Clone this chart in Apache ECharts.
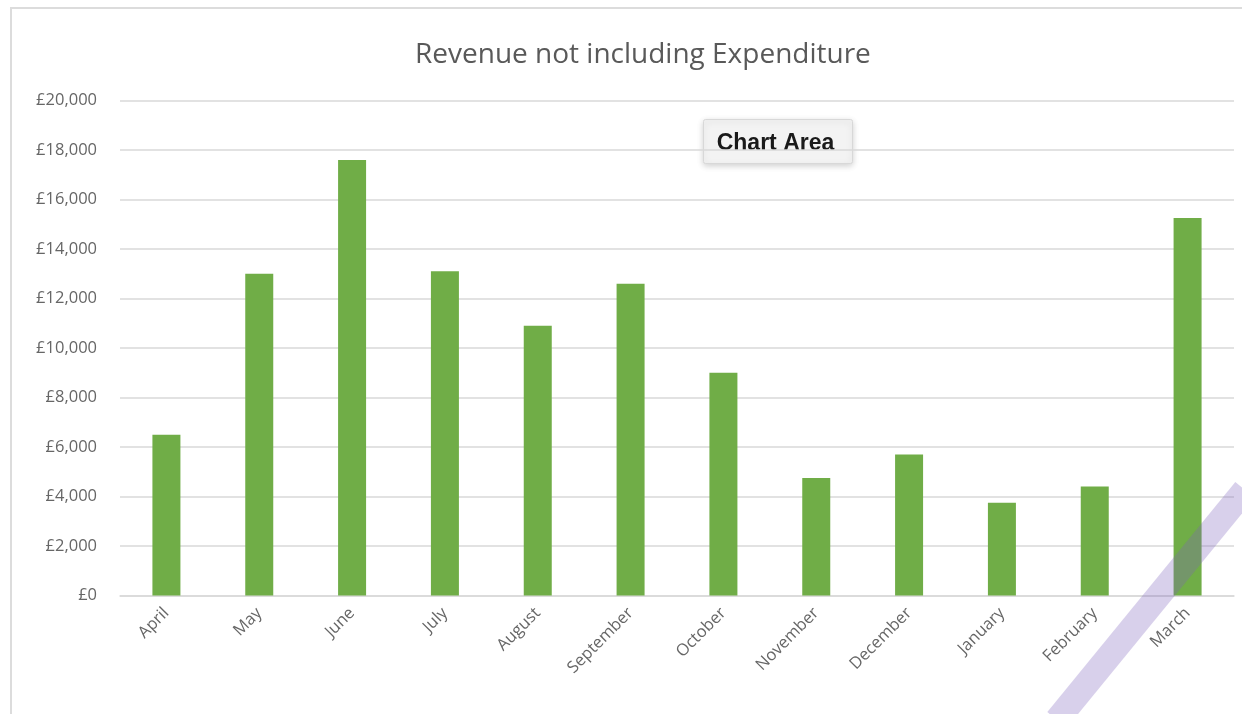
<!DOCTYPE html>
<html>
<head>
<meta charset="utf-8">
<script src="https://cdn.jsdelivr.net/npm/echarts@6/dist/echarts.min.js"></script>
<style>html,body{margin:0;padding:0;background:#fff;}#c{width:1242px;height:714px;}</style>
</head>
<body>
<div id="c"></div>
<script>
const months = ["April","May","June","July","August","September","October","November","December","January","February","March"];
const revenue = [6500, 13000, 17600, 13100, 10900, 12600, 9000, 4750, 5700, 3750, 4400, 15250];
const yTicks = [0, 2000, 4000, 6000, 8000, 10000, 12000, 14000, 16000, 18000, 20000];
const titleText = "Revenue not including Expenditure";
const popupText = "Chart Area";

const chart = echarts.init(document.getElementById('c'));
chart.setOption({
  animation: false,
  backgroundColor: '#fff',
  title: {
    text: titleText,
    left: 410,
    top: 36,
    textStyle: {fontFamily: 'Open Sans', fontSize: 28, fontWeight: 'normal', color: '#595959'}
  },
  grid: {left: 120, right: 8, top: 100.5, bottom: 118.5, containLabel: false},
  xAxis: {
    type: 'category',
    data: months,
    axisLine: {lineStyle: {color: '#d9d9d9', width: 1.5}},
    axisTick: {show: false},
    axisLabel: {rotate: 45, color: '#666666', fontFamily: 'Open Sans', fontSize: 16.5, margin: 15}
  },
  yAxis: {
    type: 'value',
    min: yTicks[0],
    max: yTicks[yTicks.length - 1],
    interval: yTicks[1] - yTicks[0],
    axisLine: {show: false},
    axisTick: {show: false},
    splitLine: {lineStyle: {color: '#d9d9d9', width: 1.5}},
    axisLabel: {
      color: '#666666', fontFamily: 'Open Sans', fontSize: 16.5, margin: 23,
      formatter: v => '£' + v.toLocaleString('en-GB')
    }
  },
  series: [{
    type: 'bar',
    data: revenue,
    barWidth: 28,
    itemStyle: {color: '#70ad47'}
  }],
  graphic: [
    {type: 'rect', shape: {x: 11, y: 8, width: 1300, height: 800}, style: {fill: 'none', stroke: '#dcdcdc', lineWidth: 2}, z: 100},
    {type: 'group', left: 703, top: 119, z: 110, children: [
      {type: 'rect', shape: {x: 0, y: 0, width: 149, height: 44, r: 2},
       style: {fill: '#f3f3f3', stroke: '#d8d8d8', lineWidth: 1, shadowBlur: 6, shadowColor: 'rgba(0,0,0,0.18)', shadowOffsetY: 2}},
      {type: 'text', x: 72, y: 24, style: {text: popupText, fill: '#1a1a1a', font: 'bold 23px "Liberation Sans", Arial, sans-serif', align: 'center', verticalAlign: 'middle'}}
    ]},
    {type: 'line', z: 120, shape: {x1: 1057, y1: 720, x2: 1245, y2: 490},
     style: {stroke: 'rgba(125,100,190,0.3)', lineWidth: 25}}
  ]
});
</script>
</body>
</html>
